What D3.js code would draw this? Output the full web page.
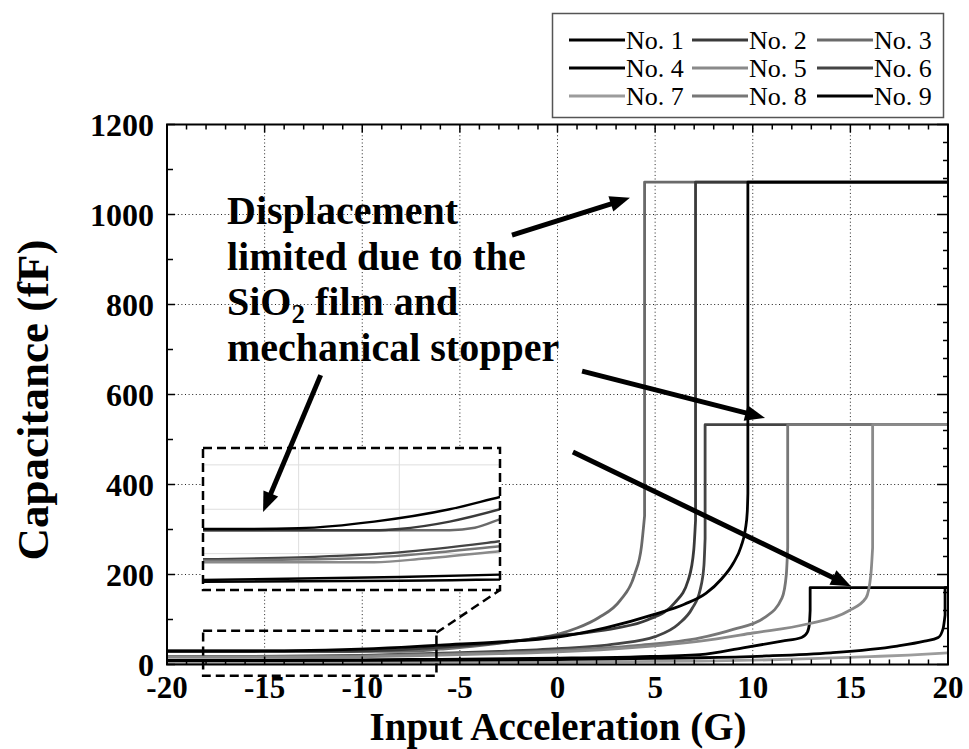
<!DOCTYPE html>
<html><head><meta charset="utf-8">
<script src="https://cdn.jsdelivr.net/npm/d3@7"></script>
<style>body{margin:0;background:#fff}svg{display:block}</style>
</head><body><svg id="c" width="969" height="749" font-family="'Liberation Serif', Tinos, 'Times New Roman', Times, 'Nimbus Roman', FreeSerif, serif"></svg>
<script>
// ---------------- DATA ----------------
const seriesNames  = ["No. 1","No. 2","No. 3","No. 4","No. 5","No. 6","No. 7","No. 8","No. 9"];
const seriesColors = ["#000000","#3a3a3a","#6a6a6a","#000000","#8a8a8a","#444444","#9c9c9c","#777777","#000000"];
// [acceleration (G), capacitance (fF)] up to the pull-in point
const no1 = [[-20,30],[-16,30],[-14,30.3],[-11,33],[-8,38],[-6,43],[-3,50],[0,61],[2.5,82],[5,112],[6.5,134],[7.6,158],[8.4,190],[9.0,225],[9.4,262],[9.62,300],[9.72,340],[9.75,380]];
const no2 = [[-20,29.5],[-11,29.5],[-10,30],[-8,33],[-6,38],[-3,48],[0,64],[1.5,71],[3,81],[4.6,99],[6.0,137],[6.7,188],[6.98,255],[7.07,320]];
const no3 = [[-20,29.5],[-8,29.5],[-7,30.5],[-6,34],[-4,42],[-2,53],[0,67],[1,81],[2.1,104],[3.2,142],[3.95,200],[4.3,262],[4.46,330]];
const no4 = [[-20,9],[-10,10.5],[-6,11.5],[0,14],[4,17],[7.3,22],[9.5,37],[11.5,52],[12.5,60],[12.8,72],[12.9,90],[12.94,120]];
const no5 = [[-20,16.5],[-11,16.5],[-9,18],[-6,21],[-3,24],[0,28],[4,38],[7.3,52],[10,70],[12.8,90],[14.9,119],[15.8,148],[16.05,200],[16.14,260]];
const no6 = [[-20,17.5],[-14,18.5],[-10,20.5],[-6,25],[-3,29],[0,35],[3,46],[5,62],[6.2,90],[6.9,125],[7.3,165],[7.5,220],[7.56,280]];
const no7 = [[-20,4],[-10,4.5],[0,5.5],[7.3,7.5],[10,9.5],[13,13],[16,17.5],[18,21],[20,26]];
const no8 = [[-20,17],[-12,18],[-9,20],[-6,23],[-3,26],[0,31],[4,42],[7.3,59],[9,78],[10.6,104],[11.5,148],[11.72,200],[11.79,260]];
const no9 = [[-20,8.5],[-10,9],[0,11],[5,13.5],[7.3,15],[10.7,19],[14,26],[17.4,41],[18.8,52],[19.5,60],[19.75,80],[19.85,110]];
const seriesData = [no1,no2,no3,no4,no5,no6,no7,no8,no9];
// pull-in acceleration and limited (saturated) capacitance; null = not reached
const pullIn   = [9.75, 7.07, 4.46, 12.94, 16.14, 7.56, null, 11.79, 19.85];
const capValue = [1072, 1072, 1072, 171,   533,   533,  null, 533,   171];
const drawOrder = [6, 8, 3, 5, 7, 4, 2, 1, 0];

const xTickLabels = [-20,-15,-10,-5,0,5,10,15,20];
const yTickLabels = [0,200,400,600,800,1000,1200];
const gridX = [-15,-10,-5,0,5,10,15];
const gridY = [200,400,600,800,1000];

const insetXDomain = [-17.8,-6.0];
const insetYDomain = [5.25,62.85];
const insetGridX = [-14,-10];
const insetGridY = [20,38,56];
const zoomBoxX = [-18.15,-6.2];
const zoomBoxC = [75,-25];

const annotationLines = ["Displacement","limited due to the","SiO|2| film and","mechanical stopper"];
// arrows in data coordinates [G, fF]
const arrows = [
  {from:[-2.33,954],to:[3.71,1037]},
  {from:[1.26,652],to:[10.63,548]},
  {from:[0.79,472],to:[15.03,174]},
  {from:[-12.13,643],to:[-15.08,339]}
];

// ---------------- DRAW ----------------
const svg = d3.select("#c");
const L=167,R=948,T=124.5,B=664.5;
const x = d3.scaleLinear().domain([-20,20]).range([L,R]);
const y = d3.scaleLinear().domain([0,1200]).range([B,T]);

svg.append("rect").attr("width",969).attr("height",749).attr("fill","#fff");

const defs = svg.append("defs");
defs.append("clipPath").attr("id","plotclip").append("rect")
  .attr("x",L).attr("y",T).attr("width",R-L).attr("height",B-T);

// grid
const grid = svg.append("g").attr("stroke","#222").attr("stroke-width",1).attr("stroke-dasharray","1,2.6");
grid.selectAll(".gx").data(gridX).join("line").attr("x1",d=>x(d)).attr("x2",d=>x(d)).attr("y1",T).attr("y2",B);
grid.selectAll(".gy").data(gridY).join("line").attr("y1",d=>y(d)).attr("y2",d=>y(d)).attr("x1",L).attr("x2",R);

// series
function pathFor(i, sx, sy){
  const ln = d3.line().x(d=>sx(d[0])).y(d=>sy(d[1])).curve(d3.curveMonotoneX);
  let p = ln(seriesData[i]);
  if (pullIn[i] !== null){
    p += "L"+sx(pullIn[i])+","+sy(capValue[i])+"L"+sx(20)+","+sy(capValue[i]);
  }
  return p;
}
const plot = svg.append("g").attr("clip-path","url(#plotclip)");
plot.selectAll("path").data(drawOrder).join("path")
  .attr("d",i=>pathFor(i,x,y)).attr("fill","none")
  .attr("stroke",i=>seriesColors[i]).attr("stroke-width",2.8).attr("stroke-linejoin","round");

// frame
svg.append("rect").attr("x",L).attr("y",T).attr("width",R-L).attr("height",B-T)
  .attr("fill","none").attr("stroke","#000").attr("stroke-width",2);

// ticks
const tk = svg.append("g").attr("stroke","#000").attr("stroke-width",1.5);
const xMinor = d3.range(-20,20.01,1);
tk.selectAll(".tt").data(xMinor).join("line").attr("x1",d=>x(d)).attr("x2",d=>x(d))
  .attr("y1",T).attr("y2",d=>T+(d%5===0?8:5));
tk.selectAll(".tb").data(xMinor).join("line").attr("x1",d=>x(d)).attr("x2",d=>x(d))
  .attr("y1",B).attr("y2",d=>B-(d%5===0?8:5));
const yLeft = d3.range(0,1200.1,100);
tk.selectAll(".tl").data(yLeft).join("line").attr("y1",d=>y(d)).attr("y2",d=>y(d))
  .attr("x1",L).attr("x2",d=>L+(d%200===0?8:6));
const yRight = d3.range(0,1200.1,40);
tk.selectAll(".tr").data(yRight).join("line").attr("y1",d=>y(d)).attr("y2",d=>y(d))
  .attr("x1",R).attr("x2",d=>R-(d%200===0?11:5));

// tick labels
svg.append("g").selectAll("text").data(yTickLabels).join("text")
  .attr("x",L-13).attr("y",d=>y(d)).attr("dy","0.35em").attr("text-anchor","end")
  .attr("font-size",32).attr("font-weight","bold").text(d=>d);
svg.append("g").selectAll("text").data(xTickLabels).join("text")
  .attr("x",d=>x(d)).attr("y",B+33).attr("text-anchor","middle")
  .attr("font-size",31).attr("font-weight","bold").text(d=>d);

// axis titles
svg.append("text").attr("transform","translate(48,400) rotate(-90)").attr("text-anchor","middle")
  .attr("font-size",45).attr("font-weight","bold").text("Capacitance (fF)");
svg.append("text").attr("x",558).attr("y",740).attr("text-anchor","middle")
  .attr("font-size",39).attr("font-weight","bold").text("Input Acceleration (G)");

// zoom box and connector
const dash = {"stroke":"#000","stroke-width":2.5,"stroke-dasharray":"9,5","fill":"none"};
const zb = svg.append("rect").attr("x",x(zoomBoxX[0])).attr("y",y(zoomBoxC[0]))
  .attr("width",x(zoomBoxX[1])-x(zoomBoxX[0])).attr("height",y(zoomBoxC[1])-y(zoomBoxC[0]));
Object.entries(dash).forEach(([k,v])=>zb.attr(k,v));

// inset
const IX0=203,IX1=500,IY0=448,IY1=590;
const ix = d3.scaleLinear().domain(insetXDomain).range([IX0,IX1]);
const iy = d3.scaleLinear().domain(insetYDomain).range([IY1,IY0]);
const conn = svg.append("line").attr("x1",x(zoomBoxX[1])).attr("y1",y(zoomBoxC[0])+2).attr("x2",IX1).attr("y2",IY1);
Object.entries(dash).forEach(([k,v])=>conn.attr(k,v));
defs.append("clipPath").attr("id","insetclip").append("rect")
  .attr("x",IX0).attr("y",IY0).attr("width",IX1-IX0).attr("height",IY1-IY0);
const inset = svg.append("g");
inset.append("rect").attr("x",IX0).attr("y",IY0).attr("width",IX1-IX0).attr("height",IY1-IY0).attr("fill","#fff");
inset.selectAll(".igx").data(insetGridX).join("line").attr("x1",d=>ix(d)).attr("x2",d=>ix(d))
  .attr("y1",IY0).attr("y2",IY1).attr("stroke","#dedede").attr("stroke-width",1);
inset.selectAll(".igy").data(insetGridY).join("line").attr("y1",d=>iy(d)).attr("y2",d=>iy(d))
  .attr("x1",IX0).attr("x2",IX1).attr("stroke","#dedede").attr("stroke-width",1);
inset.append("g").attr("clip-path","url(#insetclip)").selectAll("path").data(drawOrder).join("path")
  .attr("d",i=>d3.line().x(d=>ix(d[0])).y(d=>iy(d[1])).curve(d3.curveMonotoneX)(seriesData[i]))
  .attr("fill","none").attr("stroke",i=>seriesColors[i]).attr("stroke-width",2.4);
const ib = inset.append("rect").attr("x",IX0).attr("y",IY0).attr("width",IX1-IX0).attr("height",IY1-IY0);
Object.entries(dash).forEach(([k,v])=>ib.attr(k,v));

// annotation text
const ann = svg.append("text").attr("font-size",40).attr("font-weight","bold");
const annX = 227, annY0 = 224, annDY = 45.5;
annotationLines.forEach((s,k)=>{
  const parts = s.split("|");
  if (parts.length===1){
    ann.append("tspan").attr("x",annX).attr("y",annY0+k*annDY).text(s);
  } else {
    ann.append("tspan").attr("x",annX).attr("y",annY0+k*annDY).text(parts[0]);
    ann.append("tspan").attr("font-size",27).attr("dy",8).text(parts[1]);
    ann.append("tspan").attr("dy",-8).text(parts[2]);
  }
});

// arrows
const ag = svg.append("g");
arrows.forEach(a=>{
  const x1=x(a.from[0]),y1=y(a.from[1]),x2=x(a.to[0]),y2=y(a.to[1]);
  const dx=x2-x1,dy=y2-y1,len=Math.hypot(dx,dy),ux=dx/len,uy=dy/len;
  const hl=20,hw=8;
  const bx=x2-ux*hl,by=y2-uy*hl;
  ag.append("line").attr("x1",x1).attr("y1",y1).attr("x2",bx+ux*2).attr("y2",by+uy*2)
    .attr("stroke","#000").attr("stroke-width",5);
  ag.append("path").attr("d",`M${x2},${y2}L${bx-uy*hw},${by+ux*hw}L${bx+uy*hw},${by-ux*hw}Z`).attr("fill","#000");
});

// legend
const legX=552.5, legY=13.5, legW=391, legH=104;
svg.append("rect").attr("x",legX).attr("y",legY).attr("width",legW).attr("height",legH)
  .attr("fill","#fff").attr("stroke","#555").attr("stroke-width",1.5);
const colX=[569,692,817], rowY=[40,68,96];
const leg = svg.append("g");
seriesNames.forEach((n,i)=>{
  const cx=colX[i%3], cy=rowY[Math.floor(i/3)];
  leg.append("line").attr("x1",cx).attr("x2",cx+56).attr("y1",cy).attr("y2",cy)
    .attr("stroke",seriesColors[i]).attr("stroke-width",3);
  leg.append("text").attr("x",cx+57).attr("y",cy).attr("dy","0.35em").attr("font-size",26).text(n);
});
</script></body></html>
